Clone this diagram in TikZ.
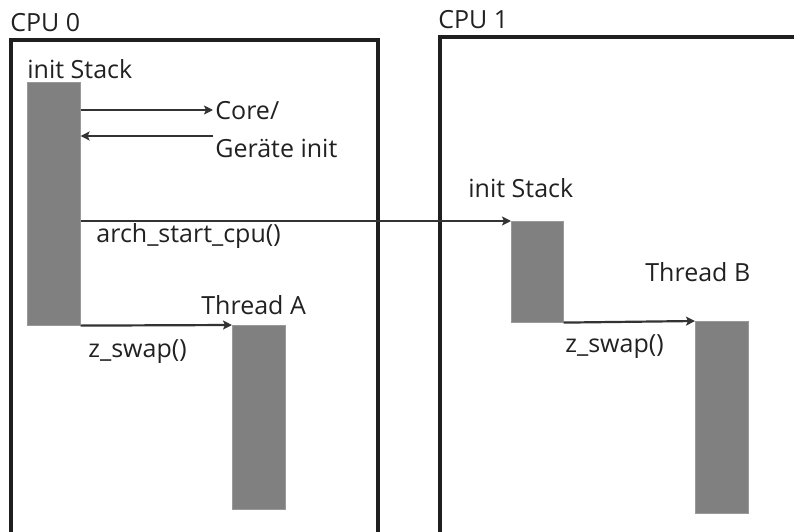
\documentclass[tikz,border=0pt]{standalone}
\usepackage{fontspec}
\setmainfont{Open Sans}
\usetikzlibrary{arrows.meta}

\begin{document}
\begin{tikzpicture}[x=1pt,y=-1pt,thick]

% Styles
\tikzset{
  cpubox/.style={draw=black!88,line width=3.5pt},
  stackbar/.style={fill=black!50,draw=black!40,line width=0.6pt,inner sep=0pt,minimum width=53pt,anchor=north west},
  lbl/.style={anchor=base west,inner sep=0pt,text=black!87,font=\fontsize{25}{30}\selectfont},
  call/.style={draw=black!80,line width=2.2pt,-{Stealth[length=9pt,width=9pt,inset=2pt]}},
}

\useasboundingbox (0,0) rectangle (794,532);

% Define coordinates
\coordinate (cpuA) at (11,40);   %top left of CPU 0.
\coordinate (cpuB) at (440,37);  %top left of CPU 1.
\coordinate (coreIn) at (213,110);
\coordinate (devOut) at (213,136);

% CPU frames, open at the bottom
\draw[cpubox] (11,545) -- (cpuA) -- (378,40) -- (378,545);
\draw[cpubox] (440,545) -- (cpuB) -- (800,37);

\node[lbl] (cpu0) at (10,32) {CPU 0};
\node[lbl] (cpu1) at (438,29) {CPU 1};

% Stacks
\node[stackbar,minimum height=243pt] (initA) at (27,82) {};
\node[stackbar,minimum height=184pt] (threadA) at (232,325) {};
\node[stackbar,minimum height=101pt,minimum width=52pt] (initB) at (511,221) {};
\node[stackbar,minimum height=192pt] (threadB) at (695,321) {};

\node[lbl] (initAlbl) at (27,79) {init Stack};
\node[lbl] (initBlbl) at (468,197) {init Stack};
\node[lbl] (threadAlbl) at (201,314) {Thread A};
\node[lbl] (threadBlbl) at (645,281) {Thread B};
\node[lbl] (core) at (215,120) {Core/};
\node[lbl] (dev) at (215,157) {Geräte init};

% Calls
\draw[call] (initA.east |- coreIn) -- (coreIn);
\draw[call] (devOut) -- (initA.east |- devOut);
\draw[call] (initA.east |- initB.north west) -- (initB.north west);
\draw[call] (initA.south east) -- (threadA.north west);
\draw[call] (initB.south east) -- (threadB.north west);

\node[lbl] (archlbl) at (96,242) {arch\_start\_cpu()};
\node[lbl] (swapA) at (88,357) {z\_swap()};
\node[lbl] (swapB) at (565,352) {z\_swap()};

\end{tikzpicture}
\end{document}
